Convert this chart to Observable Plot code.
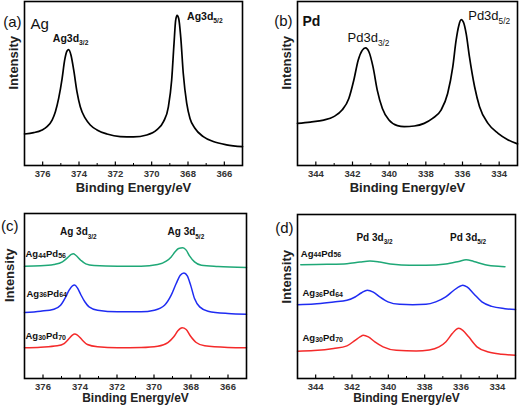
<!DOCTYPE html>
<html><head><meta charset="utf-8">
<script src="https://cdn.jsdelivr.net/npm/d3@7"></script>
<script src="https://cdn.jsdelivr.net/npm/@observablehq/plot@0.6"></script>
<style>
body{margin:0;background:#fff;}
#fig{position:relative;width:520px;height:410px;font-family:"Liberation Sans",Arial,sans-serif;}
.panel{position:absolute;width:260px;height:205px;}
.panel svg{overflow:visible;}
</style></head><body><div id="fig"></div>
<script>
// ---------- data (binding energy in eV, intensity in arbitrary units) ----------
const agTicks = [376, 374, 372, 370, 368, 366];
const agMinor = [375, 373, 371, 369, 367];
const pdTicks = [344, 342, 340, 338, 336, 334];
const pdMinor = [343, 341, 339, 337, 335];

// (a) pure Ag 3d
const agE = [377.00, 376.49, 376.03, 375.76, 375.48, 375.30, 375.12, 374.93, 374.79, 374.66, 374.57, 374.44, 374.29, 374.11, 373.93, 373.65, 373.38, 373.01, 372.46, 371.73, 371.00, 370.27, 369.72, 369.35, 369.08, 368.90, 368.77, 368.68, 368.60, 368.51, 368.40, 368.26, 368.07, 367.89, 367.62, 367.16, 366.61, 365.88, 365.00];
const agI = [19.2, 20.0, 21.7, 23.7, 27.7, 32.8, 40.9, 53.0, 64.2, 69.8, 70.6, 67.2, 58.1, 44.9, 35.8, 28.7, 24.7, 21.7, 19.2, 17.6, 17.4, 18.6, 21.7, 26.7, 35.8, 52.0, 74.3, 88.5, 91.5, 89.5, 78.3, 56.1, 37.9, 28.7, 22.7, 17.6, 14.6, 12.6, 11.5];

// (b) pure Pd 3d
const pdE = [345.00, 344.30, 343.57, 343.02, 342.57, 342.20, 341.93, 341.69, 341.47, 341.29, 341.10, 340.88, 340.65, 340.37, 340.01, 339.55, 339.18, 338.63, 338.09, 337.63, 337.17, 336.81, 336.53, 336.35, 336.20, 336.07, 335.95, 335.80, 335.62, 335.34, 335.07, 334.61, 334.06, 333.51, 333.00];
const pdI = [25.7, 26.5, 27.7, 29.8, 33.8, 40.9, 52.0, 64.2, 70.2, 71.7, 69.2, 60.1, 46.0, 34.8, 27.7, 24.3, 23.7, 24.1, 25.7, 28.7, 33.8, 43.9, 60.1, 76.3, 85.4, 88.9, 87.4, 80.4, 66.2, 48.0, 35.8, 25.7, 19.6, 15.6, 13.2];

// (c) Ag 3d of alloys
const cAg44E = [377.00, 376.13, 375.41, 374.95, 374.68, 374.47, 374.36, 374.23, 373.96, 373.69, 373.24, 371.97, 370.70, 369.80, 369.34, 369.07, 368.86, 368.67, 368.44, 368.26, 368.08, 367.81, 367.44, 366.54, 365.00];
const cAg44I = [68.1, 68.3, 69.1, 70.7, 73.1, 75.2, 75.6, 74.7, 71.7, 69.5, 68.5, 68.1, 68.1, 69.1, 71.1, 73.7, 76.8, 78.8, 79.2, 77.8, 74.3, 70.7, 68.7, 67.9, 67.3];
const cAg36E = [377.00, 376.13, 375.41, 375.05, 374.77, 374.59, 374.41, 374.29, 374.14, 373.96, 373.74, 373.51, 373.05, 371.97, 370.70, 369.98, 369.43, 369.07, 368.80, 368.58, 368.38, 368.20, 368.02, 367.81, 367.53, 367.08, 366.00, 365.00];
const cAg36I = [40.0, 40.8, 42.0, 44.4, 49.5, 53.5, 56.2, 56.6, 54.9, 50.9, 46.5, 43.4, 41.4, 40.4, 40.4, 41.4, 44.4, 50.5, 57.6, 62.6, 64.0, 62.2, 56.6, 48.5, 43.4, 40.8, 39.4, 39.0];
const cAg30E = [377.00, 376.13, 375.23, 374.86, 374.59, 374.41, 374.29, 374.14, 373.87, 373.60, 373.05, 371.97, 370.70, 369.80, 369.25, 368.93, 368.71, 368.48, 368.26, 368.04, 367.72, 367.26, 366.00, 365.00];
const cAg30I = [18.6, 19.0, 19.8, 21.2, 24.2, 26.3, 26.9, 26.3, 23.2, 20.6, 19.2, 18.6, 18.8, 19.6, 21.8, 25.3, 28.9, 30.7, 29.7, 25.9, 21.8, 19.8, 18.8, 18.6];

// (d) Pd 3d of alloys
const dAg44E = [344.82, 343.37, 342.28, 341.56, 341.01, 340.47, 339.74, 338.84, 337.93, 336.84, 336.12, 335.72, 335.30, 334.67, 333.94, 333.58];
const dAg44I = [69.4, 69.6, 70.0, 71.0, 71.6, 71.0, 69.6, 69.0, 69.0, 69.8, 71.4, 72.4, 71.4, 69.4, 68.4, 68.2];
const dAg36E = [345.00, 344.09, 343.01, 342.28, 341.83, 341.47, 341.16, 340.83, 340.47, 340.02, 339.38, 338.66, 337.93, 337.39, 336.84, 336.39, 336.03, 335.90, 335.67, 335.30, 334.85, 334.31, 333.58, 333.00];
const dAg36I = [45.0, 45.4, 46.7, 47.7, 49.7, 52.3, 53.8, 52.7, 49.7, 46.7, 45.2, 45.0, 45.2, 46.7, 49.7, 53.8, 56.4, 56.8, 55.8, 51.7, 46.7, 44.0, 42.6, 42.0];
const dAg30E = [345.00, 344.09, 343.01, 342.28, 341.83, 341.56, 341.38, 341.10, 340.74, 340.29, 339.56, 338.47, 337.75, 337.21, 336.84, 336.48, 336.26, 336.12, 335.90, 335.58, 335.12, 334.49, 333.76, 333.00];
const dAg30I = [16.6, 17.0, 18.3, 19.9, 23.3, 25.4, 26.4, 25.4, 22.3, 19.3, 17.2, 16.8, 17.4, 19.3, 22.3, 27.4, 30.0, 30.6, 29.4, 25.4, 19.3, 16.2, 14.8, 14.2];

const sampleNames = ["Ag[44]Pd[56]", "Ag[36]Pd[64]", "Ag[30]Pd[70]"];
const xTitle = "Binding Energy/eV";
const yTitle = "Intensity";

// ---------- helpers ----------
const FONT = '"Liberation Sans", Arial, Helvetica, sans-serif';
const GREEN = "#1fa877", BLUE = "#1f2cf2", RED = "#f42a2a";
const rows = (E, I) => E.map((e, i) => ({e, v: I[i]}));
function peak(E, I, lo, hi) {
  let best = null;
  E.forEach((e, i) => { if (e > lo && e < hi && (!best || I[i] > best.v)) best = {e, v: I[i]}; });
  return best;
}

const panels = [
  {left: 0, top: 0, domain: [377, 365], ticks: agTicks, minor: agMinor,
   m: [1, 18, 40, 24], titleDy: 26.7, titleSize: 13, ylab: [-11, 6],
   series: [{E: agE, I: agI, color: "#000", w: 1.7}],
   corner: [{t: "(a)", anchor: "end", dx: -3, dy: 15, size: 15, weight: "normal"},
            {t: "Ag", anchor: "start", dx: 6, dy: 17, size: 15, weight: "normal"}],
   peaks: [{t: "Ag3d{3/2}", p: peak(agE, agI, 372, 377), anchor: "middle", dx: 2, dy: -11, size: 10.5, weight: "bold"},
           {t: "Ag3d{5/2}", p: peak(agE, agI, 365, 371), anchor: "start", dx: 10, dy: 1, size: 10.5, weight: "bold"}],
   samples: []},
  {left: 260, top: 0, domain: [345, 333], ticks: pdTicks, minor: pdMinor,
   m: [1, 3, 40, 37], titleDy: 26.7, titleSize: 13, ylab: [-10.5, 6],
   series: [{E: pdE, I: pdI, color: "#000", w: 1.7}],
   corner: [{t: "(b)", anchor: "end", dx: -5, dy: 14, size: 15, weight: "normal"},
            {t: "Pd", anchor: "start", dx: 5, dy: 15, size: 14, weight: "bold"}],
   peaks: [{t: "Pd3d{3/2}", p: peak(pdE, pdI, 339, 345), anchor: "middle", dx: 3, dy: -10, size: 13, weight: "normal"},
           {t: "Pd3d{5/2}", p: peak(pdE, pdI, 333, 338), anchor: "start", dx: 7, dy: -4, size: 13, weight: "normal"}],
   samples: []},
  {left: 0, top: 205, domain: [377, 365], ticks: agTicks, minor: agMinor,
   m: [8, 14, 32, 24], titleDy: 23.4, titleSize: 12, ylab: [-15, 6],
   series: [{E: cAg44E, I: cAg44I, color: GREEN, w: 1.5},
            {E: cAg36E, I: cAg36I, color: BLUE, w: 1.5},
            {E: cAg30E, I: cAg30I, color: RED, w: 1.5}],
   corner: [{t: "(c)", anchor: "end", dx: -6, dy: 7, size: 15, weight: "normal"}],
   peaks: [{t: "Ag 3d{3/2}", p: peak(cAg44E, cAg44I, 372, 377), anchor: "middle", dx: 5, dy: -21.5, size: 10, weight: "bold"},
           {t: "Ag 3d{5/2}", p: peak(cAg44E, cAg44I, 365, 371), anchor: "middle", dx: 3, dy: -15.6, size: 10, weight: "bold"}],
   samples: [{dx: 1, dy: -12}, {dx: 2, dy: -19}, {dx: 1, dy: -12}]},
  {left: 260, top: 205, domain: [345, 333], ticks: pdTicks, minor: pdMinor,
   m: [9, 5, 32, 37], titleDy: 23.4, titleSize: 12, ylab: [-11, 7],
   series: [{E: dAg44E, I: dAg44I, color: GREEN, w: 1.5},
            {E: dAg36E, I: dAg36I, color: BLUE, w: 1.5},
            {E: dAg30E, I: dAg30I, color: RED, w: 1.5}],
   corner: [{t: "(d)", anchor: "end", dx: -4, dy: 8, size: 15, weight: "normal"}],
   peaks: [{t: "Pd 3d{3/2}", p: peak(dAg44E, dAg44I, 339, 345), anchor: "middle", dx: 4.5, dy: -23.5, size: 10, weight: "bold"},
           {t: "Pd 3d{5/2}", p: peak(dAg44E, dAg44I, 333, 338), anchor: "middle", dx: 2, dy: -22, size: 10, weight: "bold"}],
   samples: [{dx: 0, dy: -11}, {dx: 5, dy: -12}, {dx: 5, dy: -13}]}
];

function richify(svg) {
  svg.querySelectorAll("text").forEach(t => {
    const s = t.textContent;
    if (!/[{\[]/.test(s)) return;
    const fs = parseFloat(getComputedStyle(t).fontSize) || 10;
    const toks = s.match(/\{[^}]*\}|\[[^\]]*\]|[^{\[]+/g);
    t.textContent = "";
    let shift = 0;
    const NS = "http://www.w3.org/2000/svg";
    for (const tok of toks) {
      const ts = document.createElementNS(NS, "tspan");
      let target = 0, size = fs, txt = tok;
      if (tok[0] === "{") { target = fs * 0.32; size = fs * 0.64; txt = tok.slice(1, -1); }
      else if (tok[0] === "[") { target = fs * 0.08; size = fs * 0.74; txt = tok.slice(1, -1); }
      ts.setAttribute("font-size", size);
      if (target - shift !== 0) ts.setAttribute("dy", target - shift);
      shift = target;
      ts.textContent = txt;
      t.appendChild(ts);
    }
  });
}

const fig = document.getElementById("fig");
for (const P of panels) {
  const marks = [];
  P.series.forEach(s => marks.push(Plot.line(rows(s.E, s.I), {x: "e", y: "v", stroke: s.color, strokeWidth: s.w, curve: "monotone-x"})));
  marks.push(Plot.frame({stroke: "#000", strokeWidth: 1.6}));
  marks.push(Plot.axisX({ticks: P.ticks, tickSize: 3.5, dy: -3.5, fill: "none", stroke: "#000", strokeWidth: 1.2, label: null}));
  marks.push(Plot.axisX({ticks: P.minor, tickSize: 2, dy: -2, fill: "none", stroke: "#000", strokeWidth: 1, label: null}));
  marks.push(Plot.axisX({ticks: P.ticks, tickSize: 0, tickPadding: 5, fontSize: 9.5, fontWeight: "bold", fill: "#333", label: null, tickFormat: d => String(d)}));
  marks.push(Plot.text([xTitle], {frameAnchor: "bottom", dy: P.titleDy, fontSize: P.titleSize, fontWeight: "bold", fill: "#222"}));
  marks.push(Plot.text([yTitle], {frameAnchor: "left", rotate: -90, dx: P.ylab[0], dy: P.ylab[1], fontSize: 13, fontWeight: "bold", fill: "#222"}));
  P.corner.forEach(c => marks.push(Plot.text([c.t], {frameAnchor: "top-left", textAnchor: c.anchor, dx: c.dx, dy: c.dy, fontSize: c.size, fontWeight: c.weight, fill: "#111"})));
  P.peaks.forEach(k => marks.push(Plot.text([{...k.p, t: k.t}], {x: "e", y: "v", text: "t", textAnchor: k.anchor, dx: k.dx, dy: k.dy, fontSize: k.size, fontWeight: k.weight, fill: "#111"})));
  P.samples.forEach((sm, i) => {
    const s = P.series[i];
    marks.push(Plot.text([{e: s.E[0], v: s.I[0], t: sampleNames[i]}], {x: "e", y: "v", text: "t", textAnchor: "start", dx: sm.dx, dy: sm.dy, fontSize: 9.5, fontWeight: "bold", fill: "#111"}));
  });
  const plot = Plot.plot({
    width: 260, height: 205,
    marginTop: P.m[0], marginRight: P.m[1], marginBottom: P.m[2], marginLeft: P.m[3],
    style: {fontFamily: FONT, background: "transparent", overflow: "visible"},
    x: {domain: P.domain},
    y: {domain: [0, 100], axis: null},
    marks
  });
  const div = document.createElement("div");
  div.className = "panel";
  div.style.left = P.left + "px";
  div.style.top = P.top + "px";
  div.appendChild(plot);
  fig.appendChild(div);
  richify(plot);
}
</script></body></html>
